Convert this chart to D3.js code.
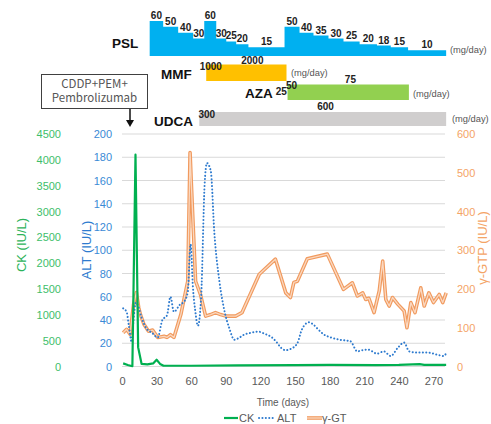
<!DOCTYPE html>
<html>
<head>
<meta charset="utf-8">
<script src="https://cdn.jsdelivr.net/npm/d3@7"></script>
<style>
  body { margin: 0; background: #fff; }
  svg text { font-family: "Liberation Sans", Arial, sans-serif; }
  .jp { font-family: "Noto Sans CJK JP", sans-serif; }
</style>
</head>
<body>
<div id="chart"></div>
<script>
// ---- data ----
var ckData = [[1, 60], [5, 30], [9, 5], [11.7, 4100], [14, 370], [17, 50], [22, 40], [27, 60], [30, 130], [33, 50],
    [36, 15], [60, 15], [100, 20], [150, 25], [180, 30], [220, 25], [240, 30], [258, 45], [262, 30], [281, 30]];

var altData = [[1, 50], [4, 47], [6, 35], [8.4, 21], [10, 40], [12, 55], [14, 52], [17, 42], [21, 33], [26, 29],
    [31, 25], [35, 40], [39, 44], [42, 60], [45, 47], [50, 53], [54, 56], [57, 64], [59.5, 105], [61.5, 68],
    [63.5, 48], [65.8, 35], [68.7, 62], [71.6, 156], [73.6, 175], [77, 168], [80, 116], [84.5, 73], [89, 47],
    [93, 33], [97.4, 23], [102, 25], [106, 27.5], [112, 29], [118, 30], [124, 28], [130, 25], [134, 21],
    [138, 16], [142, 14], [146, 15], [152, 20], [156, 32], [162, 38], [166, 36], [170, 32], [175, 27.5],
    [181, 25], [189, 23], [198, 21.7], [204, 13], [208, 14], [213, 14.6], [217, 13], [221, 11], [227, 13],
    [233, 9], [239, 16], [244.5, 20.6], [249, 13], [256, 12], [265, 12], [273.6, 10], [279, 9], [281, 11.5]];

var ggtData = [[1, 87], [4, 96], [7, 83], [10, 160], [12.5, 191], [14.5, 152], [16, 134], [19, 109], [23, 91],
    [26.5, 94], [31, 75], [36.5, 78], [39, 75], [42, 82], [45, 75], [51, 134], [57, 220], [59, 552], [60, 479],
    [63.8, 220], [68, 186], [72.5, 130], [76.8, 134], [81, 139], [85.5, 134], [90, 130], [98.5, 130], [104, 139],
    [119, 238], [133, 277], [142, 190], [146, 178], [149, 217], [152, 220], [160.6, 278], [178, 290], [192, 199],
    [199.7, 216], [204, 182], [208.7, 190], [211.3, 173], [214, 176], [218.5, 139], [223, 195], [226, 272],
    [228.7, 173], [231.6, 156], [234.5, 178], [239, 161], [244.6, 143], [247, 100], [250.4, 165], [254, 139],
    [259, 203], [262, 156], [266, 190], [270, 165], [275, 186], [278, 165], [281, 190]];

// PSL dose steps: start day and dose (mg/day); last step ends at pslEnd
var pslDays = [24, 35.7, 48.7, 61.7, 71.3, 81.7, 90.4, 99, 109.6, 140.9, 153.9, 166, 179, 192, 206, 221, 233, 248];
var pslDoses = [60, 50, 40, 30, 60, 30, 25, 20, 15, 50, 40, 35, 30, 25, 20, 18, 15, 10];
var pslEnd = 281;

// other drugs: [start day, end day] and dose labels [day, dose]
var mmfPeriod = [73, 142.6];
var mmfLabels = [[77, "1000"], [113, "2000"]];
var azaPeriod = [143.5, 248.7];
var azaLabels = [[138, "25"], [147, "50"], [198, "75"]];
var udcaPeriod = [67, 281];
var udcaLabels = [[73.5, "300"], [176.5, "600"]];

var ckTicks = d3.range(0, 4501, 500);
var altTicks = d3.range(0, 201, 20);
var ggtTicks = d3.range(0, 601, 100);
var dayTicks = d3.range(0, 271, 30);

// ---- drawing ----
var width = 491, height = 424;
var svg = d3.select("#chart").append("svg")
    .attr("width", width)
    .attr("height", height);

var x = d3.scaleLinear().domain([0, 280]).range([122, 445]);
var yCk = d3.scaleLinear().domain([0, 4500]).range([366.5, 134]);
var yAlt = d3.scaleLinear().domain([0, 200]).range([366.5, 134]);
var yGgt = d3.scaleLinear().domain([0, 600]).range([366.5, 134]);

var green = "#00B050", blue = "#2E7BCF", orange = "#F19A5E";

// grid
svg.append("g").selectAll("line")
    .data(altTicks)
    .enter().append("line")
    .attr("x1", x(0)).attr("x2", x(280))
    .attr("y1", function(d) { return yAlt(d); })
    .attr("y2", function(d) { return yAlt(d); })
    .attr("stroke", "#d9d9d9")
    .attr("stroke-width", 1);

// axes
function styleAxis(g, color) {
    g.select(".domain").remove();
    g.selectAll("text").attr("fill", color).style("font-size", "11px");
}
svg.append("g").attr("transform", "translate(64,0)")
    .call(d3.axisLeft(yCk).tickValues(ckTicks).tickFormat(d3.format("d")).tickSize(0).tickPadding(3))
    .call(styleAxis, "#3DBE6A");
svg.append("g").attr("transform", "translate(115,0)")
    .call(d3.axisLeft(yAlt).tickValues(altTicks).tickSize(0).tickPadding(3))
    .call(styleAxis, "#3A8AD6");
svg.append("g").attr("transform", "translate(454,0)")
    .call(d3.axisRight(yGgt).tickValues(ggtTicks).tickSize(0).tickPadding(3))
    .call(styleAxis, "#F4A466");
svg.append("g").attr("transform", "translate(0,367)")
    .call(d3.axisBottom(x).tickValues(dayTicks).tickSize(0).tickPadding(10))
    .call(styleAxis, "#595959");

// axis titles
svg.append("text").attr("transform", "translate(26,245) rotate(-90)")
    .attr("text-anchor", "middle").attr("fill", "#2DB35A").style("font-size", "13px").text("CK (IU/L)");
svg.append("text").attr("transform", "translate(91,250) rotate(-90)")
    .attr("text-anchor", "middle").attr("fill", "#2E7BCF").style("font-size", "13px").text("ALT (IU/L)");
svg.append("text").attr("transform", "translate(487,248) rotate(-90)")
    .attr("text-anchor", "middle").attr("fill", "#F4A466").style("font-size", "13px").text("γ-GTP (IU/L)");
svg.append("text").attr("x", 283).attr("y", 406)
    .attr("text-anchor", "middle").attr("fill", "#595959").style("font-size", "10px").text("Time (days)");

// lines
var ggtLine = d3.line().x(function(d) { return x(d[0]); }).y(function(d) { return yGgt(d[1]); });
var altLine = d3.line().curve(d3.curveMonotoneX).x(function(d) { return x(d[0]); }).y(function(d) { return yAlt(d[1]); });
var ckLine = d3.line().x(function(d) { return x(d[0]); }).y(function(d) { return yCk(d[1]); });

svg.append("path").datum(ggtData).attr("d", ggtLine)
    .attr("fill", "none").attr("stroke", orange).attr("stroke-width", 3.6).attr("stroke-linejoin", "round");
svg.append("path").datum(ggtData).attr("d", ggtLine)
    .attr("fill", "none").attr("stroke", "#FAD8C0").attr("stroke-width", 1.3).attr("stroke-linejoin", "round");
svg.append("path").datum(altData).attr("d", altLine)
    .attr("fill", "none").attr("stroke", blue).attr("stroke-width", 2)
    .attr("stroke-linecap", "round").attr("stroke-dasharray", "0.1 3.3");
svg.append("path").datum(ckData).attr("d", ckLine)
    .attr("fill", "none").attr("stroke", green).attr("stroke-width", 2.2).attr("stroke-linejoin", "round");

// legend
var legend = svg.append("g").attr("transform", "translate(0,418)");
legend.append("line").attr("x1", 224).attr("x2", 238).attr("y1", 0).attr("y2", 0)
    .attr("stroke", green).attr("stroke-width", 2.2);
legend.append("text").attr("x", 239).attr("y", 4).attr("fill", "#595959").style("font-size", "11px").text("CK");
legend.append("line").attr("x1", 259).attr("x2", 274).attr("y1", 0).attr("y2", 0)
    .attr("stroke", blue).attr("stroke-width", 2).attr("stroke-linecap", "round").attr("stroke-dasharray", "0.1 3.3");
legend.append("text").attr("x", 277).attr("y", 4).attr("fill", "#595959").style("font-size", "11px").text("ALT");
legend.append("line").attr("x1", 307).attr("x2", 322).attr("y1", 0).attr("y2", 0)
    .attr("stroke", orange).attr("stroke-width", 3.6);
legend.append("line").attr("x1", 307).attr("x2", 322).attr("y1", 0).attr("y2", 0)
    .attr("stroke", "#FAD8C0").attr("stroke-width", 1.3);
legend.append("text").attr("x", 322).attr("y", 4).attr("fill", "#595959").style("font-size", "11px").text("γ-GT");

// ---- drug panel ----
var yPsl = d3.scaleLinear().domain([0, 60]).range([56, 21]);
var pslSteps = pslDays.map(function(d, i) {
    return { start: d, end: i < pslDays.length - 1 ? pslDays[i + 1] : pslEnd, dose: pslDoses[i] };
});
var pslPts = [];
pslSteps.forEach(function(s) { pslPts.push([s.start, s.dose]); pslPts.push([s.end, s.dose]); });
var pslArea = d3.area()
    .x(function(d) { return x(d[0]); })
    .y0(yPsl(0))
    .y1(function(d) { return yPsl(d[1]); });
svg.append("path").datum(pslPts).attr("d", pslArea).attr("fill", "#00B0F0");
svg.append("g").selectAll("text")
    .data(pslSteps)
    .enter().append("text")
    .attr("x", function(d) { return (x(d.start) + x(d.end)) / 2; })
    .attr("y", function(d) { return yPsl(d.dose) - 2; })
    .attr("text-anchor", "middle")
    .style("font-size", "10px").style("font-weight", "bold").attr("fill", "#222")
    .text(function(d) { return d.dose; });

function drugBar(period, y0, h, color) {
    svg.append("rect")
        .attr("x", x(period[0])).attr("width", x(period[1]) - x(period[0]))
        .attr("y", y0).attr("height", h).attr("fill", color);
}
drugBar(mmfPeriod, 64.5, 16.5, "#FFC000");
drugBar(azaPeriod, 84.5, 15.5, "#92D050");
drugBar(udcaPeriod, 112, 14, "#D0CECE");

function doseLabels(labels, ys) {
    svg.append("g").selectAll("text")
        .data(labels)
        .enter().append("text")
        .attr("x", function(d) { return x(d[0]); })
        .attr("y", function(d, i) { return ys[i]; })
        .attr("text-anchor", "middle")
        .style("font-size", "10px").style("font-weight", "bold").attr("fill", "#222")
        .text(function(d) { return d[1]; });
}
doseLabels(mmfLabels, [70, 64]);
doseLabels(azaLabels, [95, 89, 83]);
doseLabels(udcaLabels, [117.5, 110]);

var names = [["PSL", 112, 48], ["MMF", 161, 79], ["AZA", 245, 98], ["UDCA", 154, 126]];
svg.append("g").selectAll("text")
    .data(names)
    .enter().append("text")
    .attr("x", function(d) { return d[1]; })
    .attr("y", function(d) { return d[2]; })
    .style("font-size", "13.5px").style("font-weight", "bold").attr("fill", "#111")
    .text(function(d) { return d[0]; });

var units = [[450, 53], [291, 76], [413, 97], [452, 122]];
svg.append("g").selectAll("text")
    .data(units)
    .enter().append("text")
    .attr("x", function(d) { return d[0]; })
    .attr("y", function(d) { return d[1]; })
    .style("font-size", "9.3px").attr("fill", "#555")
    .text("(mg/day)");

// chemo box + arrow
svg.append("rect").attr("x", 41.5).attr("y", 74.5).attr("width", 106).attr("height", 34)
    .attr("fill", "#fff").attr("stroke", "#404040").attr("stroke-width", 1);
svg.append("text").attr("class", "jp").attr("x", 94.5).attr("y", 87.5)
    .attr("text-anchor", "middle").style("font-size", "11.5px").attr("fill", "#555").text("CDDP+PEM+");
svg.append("text").attr("class", "jp").attr("x", 94.5).attr("y", 102)
    .attr("text-anchor", "middle").style("font-size", "11.5px").attr("fill", "#555").text("Pembrolizumab");
svg.append("line").attr("x1", 130).attr("x2", 130).attr("y1", 109).attr("y2", 122)
    .attr("stroke", "#111").attr("stroke-width", 1.5);
svg.append("path").attr("d", "M126,120L134,120L130,127Z").attr("fill", "#111");
</script>
</body>
</html>
